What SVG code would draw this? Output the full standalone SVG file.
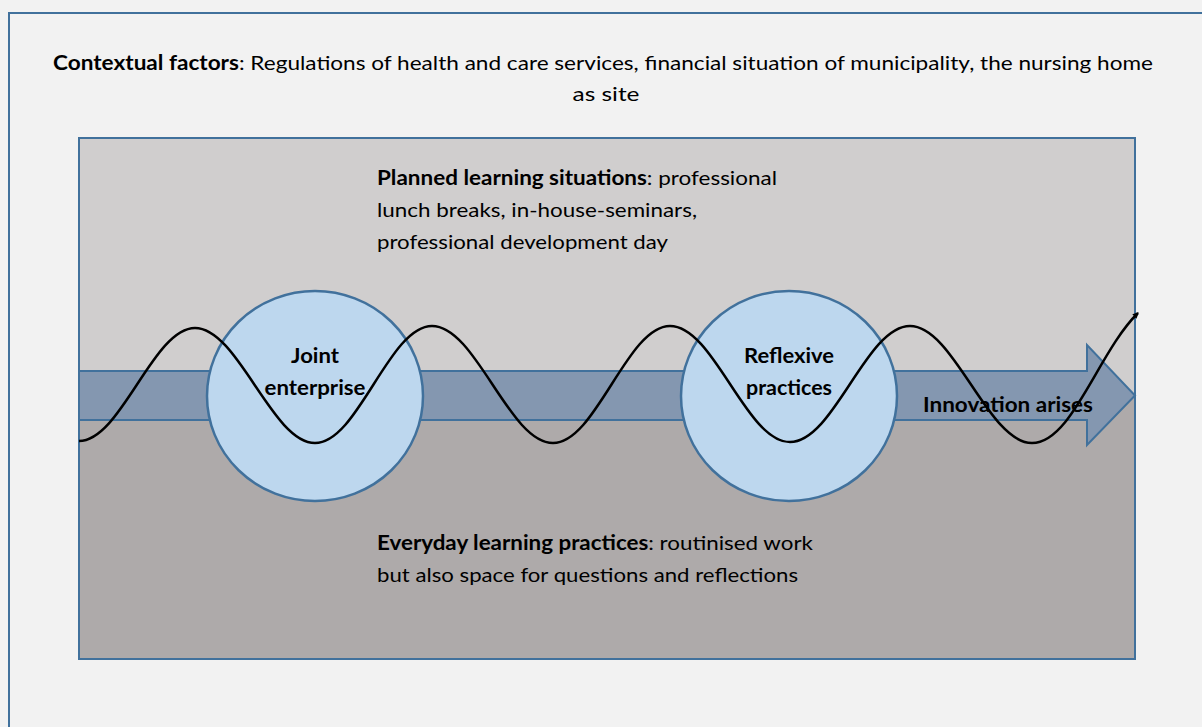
<svg xmlns="http://www.w3.org/2000/svg" width="1202" height="727" viewBox="0 0 1202 727">
  <style>
    text { font-family: Lato, "Liberation Sans", Arial, sans-serif; font-size: 20px; fill: #000; }
    .b { font-weight: bold; }
    .frame { stroke: #41719c; stroke-width: 2; }
    .circle { fill: #bdd7ee; stroke: #41719c; stroke-width: 2.5; }
  </style>
  <defs>
    <marker id="tip" markerWidth="6" markerHeight="6" refX="5" refY="3" orient="auto" markerUnits="userSpaceOnUse">
      <path d="M0,0 L6,3 L0,6 Z" fill="#000"/>
    </marker>
  </defs>

  <rect id="background" x="0" y="0" width="1202" height="727" fill="#f2f2f2"/>

  <g id="context">
    <rect class="frame" x="9" y="13" width="1210" height="730" fill="#f2f2f2"/>
    <text x="603" y="70" text-anchor="middle" textLength="1100" lengthAdjust="spacingAndGlyphs"><tspan class="b">Contextual factors</tspan>: Regulations of health and care services, financial situation of municipality, the nursing home</text>
    <text x="606" y="101" text-anchor="middle" textLength="67" lengthAdjust="spacingAndGlyphs">as site</text>
  </g>

  <g id="learning-field">
    <rect x="79" y="138" width="1056" height="258" fill="#d0cece"/>
    <rect x="79" y="396" width="1056" height="263" fill="#aeaaaa"/>
    <rect class="frame" x="79" y="138" width="1056" height="521" fill="none"/>
  </g>

  <g id="planned">
    <text x="377" y="185" textLength="400" lengthAdjust="spacingAndGlyphs"><tspan class="b">Planned learning situations</tspan>: professional</text>
    <text x="377" y="217" textLength="320" lengthAdjust="spacingAndGlyphs">lunch breaks, in-house-seminars,</text>
    <text x="377" y="249" textLength="291" lengthAdjust="spacingAndGlyphs">professional development day</text>
  </g>

  <g id="everyday">
    <text x="377" y="550" textLength="436" lengthAdjust="spacingAndGlyphs"><tspan class="b">Everyday learning practices</tspan>: routinised work</text>
    <text x="377" y="582" textLength="421" lengthAdjust="spacingAndGlyphs">but also space for questions and reflections</text>
  </g>

  <g id="innovation-arrow">
    <path d="M79,371 L1087,371 L1087,345 L1135,395.5 L1087,445 L1087,420 L79,420 Z" fill="#8497b0" stroke="#41719c" stroke-width="2" stroke-linejoin="miter"/>
  </g>

  <g id="joint-enterprise">
    <ellipse class="circle" cx="315" cy="396" rx="108" ry="105"/>
  </g>

  <g id="reflexive-practices">
    <ellipse class="circle" cx="789" cy="396" rx="108" ry="105"/>
  </g>

  <g id="connectors">
    <path d="M79,441 C121,441 153,328 195,328 C238,328 272,443 315,443 C358,443 389,326 432,326 C476,326 509,443 553,443 C596,443 627,326 670,326 C714,326 746,442 790,442 C834,442 866,326 910,326 C954,326 988,443 1032,443 C1072,443 1098,352 1138,313" fill="none" stroke="#000" stroke-width="2.5" marker-end="url(#tip)"/>
  </g>

  <g id="labels">
    <text class="b" x="315" y="363" text-anchor="middle" textLength="48" lengthAdjust="spacingAndGlyphs">Joint</text>
    <text class="b" x="315" y="395" text-anchor="middle" textLength="101" lengthAdjust="spacingAndGlyphs">enterprise</text>
    <text class="b" x="789" y="363" text-anchor="middle" textLength="90" lengthAdjust="spacingAndGlyphs">Reflexive</text>
    <text class="b" x="789" y="395" text-anchor="middle" textLength="86" lengthAdjust="spacingAndGlyphs">practices</text>
    <text class="b" x="923" y="412" textLength="170" lengthAdjust="spacingAndGlyphs">Innovation arises</text>
  </g>
</svg>
